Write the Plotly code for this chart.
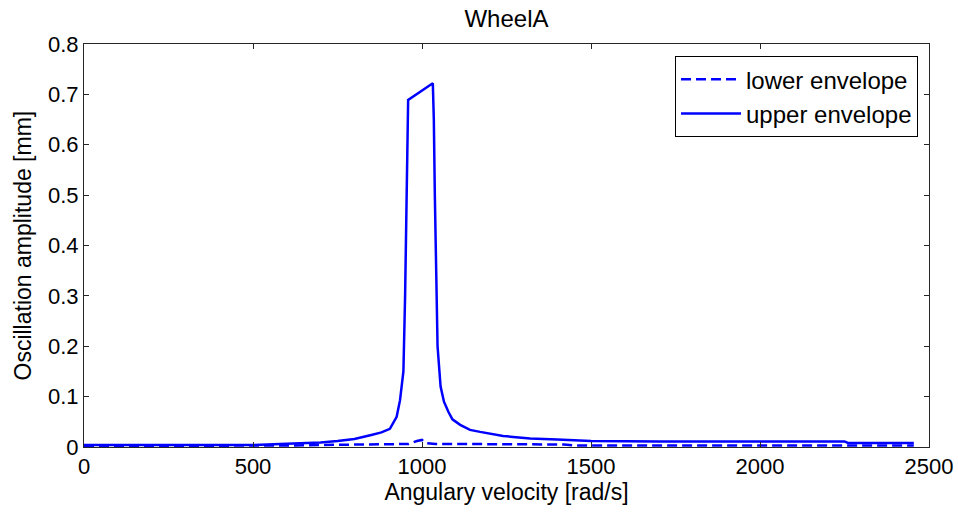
import plotly.graph_objects as go

# Angular velocity [rad/s] and oscillation amplitude [mm]
upper_x = [0, 100, 200, 300, 400, 500, 580, 650, 700, 750, 800, 850, 880, 905, 925, 935,
           945, 950, 955, 959, 1032, 1035, 1038, 1042, 1046, 1055, 1065, 1078, 1090, 1113,
           1142, 1172, 1240, 1270, 1320, 1400, 1500, 1700, 1900, 2100, 2250, 2260, 2455]
upper_y = [0.004, 0.004, 0.004, 0.004, 0.004, 0.004, 0.006, 0.007, 0.009, 0.012, 0.016,
           0.024, 0.029, 0.036, 0.06, 0.093, 0.15, 0.3, 0.5, 0.689, 0.722, 0.65, 0.5,
           0.32, 0.2, 0.12, 0.09, 0.07, 0.055, 0.044, 0.034, 0.03, 0.022, 0.02, 0.017,
           0.015, 0.012, 0.011, 0.011, 0.011, 0.011, 0.008, 0.008]

lower_x = [0, 300, 600, 700, 800, 900, 960, 985, 1000, 1010, 1040, 1100, 1200, 1300, 1420,
           1450, 1600, 2000, 2455]
lower_y = [0.002, 0.002, 0.003, 0.004, 0.005, 0.005, 0.006, 0.012, 0.014, 0.008, 0.006,
           0.006, 0.006, 0.005, 0.005, 0.003, 0.003, 0.003, 0.003]

x_ticks = [0, 500, 1000, 1500, 2000, 2500]
y_ticks = [0, 0.1, 0.2, 0.3, 0.4, 0.5, 0.6, 0.7, 0.8]
y_tick_labels = ["0", "0.1", "0.2", "0.3", "0.4", "0.5", "0.6", "0.7", "0.8"]

FONT = "Liberation Sans, Arial, sans-serif"
BLUE = "#0000FF"
AX = "#262626"

W, H = 958, 514
ML, MR, MT, MB = 84, 29, 44, 67

fig = go.Figure()
fig.add_trace(go.Scatter(x=lower_x, y=lower_y, mode="lines", name="lower envelope",
                         line=dict(color=BLUE, width=2.5, dash="10px,5px")))
fig.add_trace(go.Scatter(x=upper_x, y=upper_y, mode="lines", name="upper envelope",
                         line=dict(color=BLUE, width=2.5)))

axis_common = dict(showgrid=False, zeroline=False, showline=True, linecolor=AX, linewidth=1,
                   mirror="ticks", ticks="inside", ticklen=5, tickcolor=AX, automargin=False,
                   tickfont=dict(family=FONT, size=22, color="#000"))

fig.update_layout(
    width=W, height=H,
    margin=dict(l=ML, r=MR, t=MT, b=MB),
    paper_bgcolor="white", plot_bgcolor="white",
    font=dict(family=FONT, size=22, color="#000"),
    title=dict(text="WheelA", x=0.5, xref="paper", y=1 - 19 / H, yref="container",
               xanchor="center", yanchor="middle", font=dict(family=FONT, size=24)),
    xaxis=dict(range=[0, 2500], tickvals=x_ticks, ticktext=[str(v) for v in x_ticks],
               title=dict(text="Angulary velocity [rad/s]", standoff=3,
                          font=dict(family=FONT, size=23)),
               **axis_common),
    yaxis=dict(range=[0, 0.8], tickvals=y_ticks, ticktext=y_tick_labels, **axis_common),
    legend=dict(x=0.987, xanchor="right", y=0.970, yanchor="top",
                bordercolor="#000", borderwidth=1, bgcolor="white",
                font=dict(family=FONT, size=24), itemwidth=60, tracegroupgap=0),
    showlegend=True,
    annotations=[dict(text="Oscillation amplitude [mm]", textangle=-90, showarrow=False,
                      xref="paper", yref="paper", x=-(ML - 22) / (W - ML - MR), y=0.5,
                      xanchor="center", yanchor="middle",
                      font=dict(family=FONT, size=23, color="#000"))],
)

# remove the default 8px page margin so the figure fills the window exactly
fig.write_html("out.html", config={"displayModeBar": False},
               post_script="document.body.style.margin='0';")
